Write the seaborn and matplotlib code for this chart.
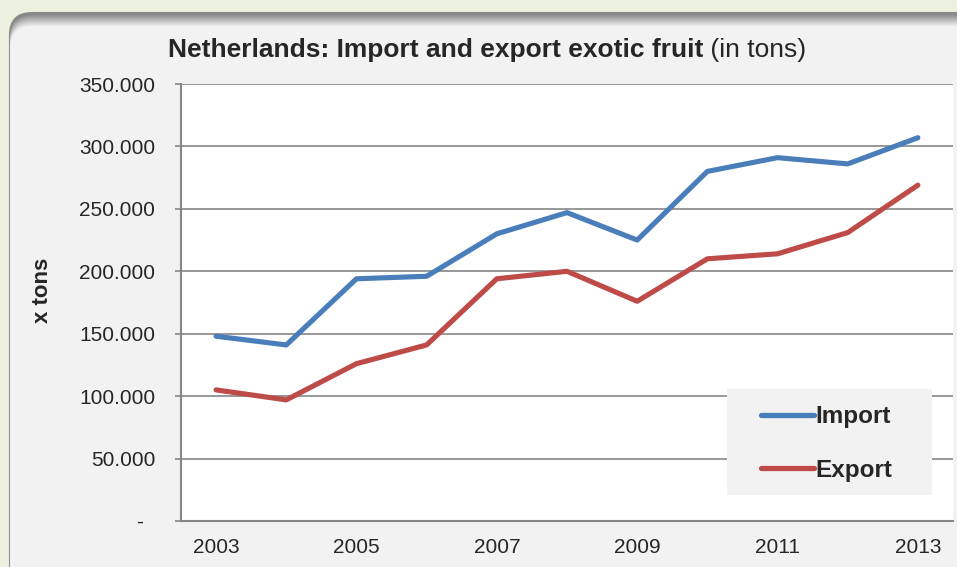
import numpy as np
import pandas as pd
import matplotlib
matplotlib.use("Agg")
import matplotlib.pyplot as plt
import seaborn as sns
from matplotlib.patches import FancyBboxPatch, Rectangle

# datos (toneladas)
years = [2003, 2004, 2005, 2006, 2007, 2008, 2009, 2010, 2011, 2012, 2013]
import_tons = [148000, 141000, 194000, 196000, 230000, 247000, 225000, 280000, 291000, 286000, 307000]
export_tons = [105000, 97000, 126000, 141000, 194000, 200000, 176000, 210000, 214000, 231000, 269000]
series_names = ["Import", "Export"]
ytick_values = [0, 50000, 100000, 150000, 200000, 250000, 300000, 350000]
ytick_labels = ["-  ", "50.000", "100.000", "150.000", "200.000", "250.000", "300.000", "350.000"]
xtick_years = [2003, 2005, 2007, 2009, 2011, 2013]

df = pd.DataFrame({
    "Year": years * 2,
    "Tons": import_tons + export_tons,
    "Serie": [series_names[0]] * len(years) + [series_names[1]] * len(years),
})

sns.set_style("white")
plt.rcParams["font.family"] = ["Liberation Sans", "DejaVu Sans"]

grid_col = "#868686"
fig = plt.figure(figsize=(9.57, 5.67), dpi=100)
fig.patch.set_facecolor("#ebf1de")

# panel gris con sombra arriba (coordenadas en pulgadas, 100 px = 1 in)
tr = fig.dpi_scale_trans
shade = np.linspace(0, 1, 14)
for i, f in enumerate(shade):
    c = (0.50 + 0.45 * f,) * 3
    top = (567 - 13 - i) / 100
    p = FancyBboxPatch((0.10, -0.3), 9.7, top + 0.3, boxstyle="round,pad=0,rounding_size=0.22",
                       transform=tr, facecolor=c, edgecolor="#8a8a8a" if i == 0 else c,
                       linewidth=1.5 if i == 0 else 0, zorder=-10 + i * 0.01)
    fig.add_artist(p)
p = FancyBboxPatch((0.115, -0.3), 9.7, (567 - 27) / 100 + 0.3, boxstyle="round,pad=0,rounding_size=0.2",
                   transform=tr, facecolor="#f2f2f2", edgecolor="none", zorder=-9)
fig.add_artist(p)

ax = fig.add_axes([181 / 957, 1 - 521 / 567, (953 - 181) / 957, (521 - 84) / 567])
ax.set_facecolor("white")

sns.lineplot(data=df, x="Year", y="Tons", hue="Serie", palette=["#4a7ebb", "#be4b48"],
             linewidth=3.7, ax=ax, legend=False, zorder=3)

ax.set_xlim(2002.5, 2013.5)
ax.set_ylim(0, 350000)
ax.set_yticks(ytick_values)
ax.set_yticklabels(ytick_labels)
ax.set_xticks(xtick_years)
ax.set_xticklabels([str(y) for y in xtick_years])
ax.set_xticks(np.arange(2002.5, 2014, 1.0), minor=True)
ax.tick_params(axis="x", which="major", length=0, pad=12, labelsize=15)
ax.tick_params(axis="x", which="minor", length=4.5, width=1.2, color=grid_col, direction="out")
ax.tick_params(axis="y", length=4.5, width=1.2, color=grid_col, direction="out", pad=14, labelsize=15, left=True)
ax.yaxis.grid(True, color=grid_col, linewidth=1.2)
ax.set_axisbelow(True)
for s in ["top", "right"]:
    ax.spines[s].set_visible(False)
for s in ["left", "bottom"]:
    ax.spines[s].set_color(grid_col)
    ax.spines[s].set_linewidth(1.5)
ax.set_xlabel("")
ax.set_ylabel("")

# leyenda con fondo gris
ax.add_patch(Rectangle((0.707, 0.0595), 0.266, 0.2425, transform=ax.transAxes,
                       facecolor="#f2f2f2", edgecolor="none", zorder=2.5))
handles = [plt.Line2D([], [], color=c, linewidth=3.8, solid_capstyle="round")
           for c in ["#4a7ebb", "#be4b48"]]
ax.legend(handles, series_names, loc="center", bbox_to_anchor=(0.836, 0.177), frameon=False,
          prop={"weight": "bold", "size": 17.5}, handlelength=2.2, handletextpad=0.05,
          labelspacing=1.25)

fig.text(0.044, 1 - 290 / 567, "x tons", rotation=90, fontsize=16, fontweight="bold",
         ha="center", va="center")

# titulo: parte en negrita + parte normal
t1 = fig.text(168 / 957, 1 - 50 / 567, "Netherlands: Import and export exotic fruit",
              fontsize=19, fontweight="bold", ha="left", va="center")
fig.canvas.draw()
bb = t1.get_window_extent()
fig.text(bb.x1 / fig.bbox.width, 1 - 50 / 567, " (in tons)", fontsize=19, ha="left", va="center")

fig.savefig("out.png", dpi=100, facecolor=fig.get_facecolor())
